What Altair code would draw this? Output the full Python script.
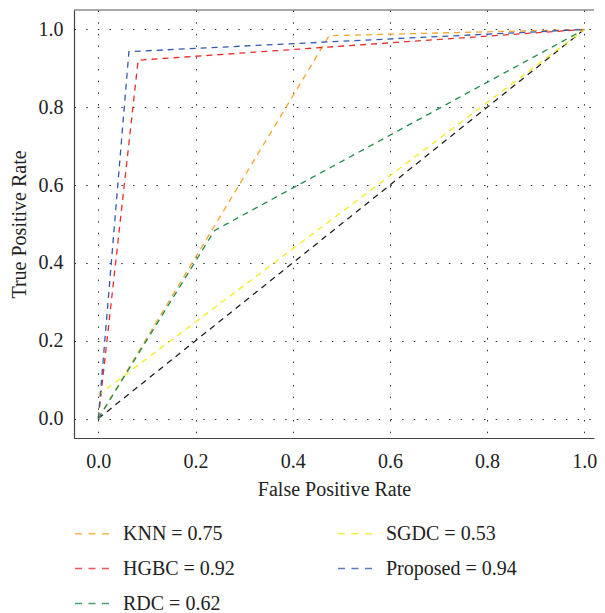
import altair as alt
import pandas as pd

# ---- data ----
labels = ["KNN = 0.75", "HGBC = 0.92", "RDC = 0.62", "SGDC = 0.53", "Proposed = 0.94"]
knn_fpr = [0.0, 0.475, 1.0]
knn_tpr = [0.0, 0.984, 1.0]
hgbc_fpr = [0.0, 0.082, 1.0]
hgbc_tpr = [0.0, 0.921, 1.0]
rdc_fpr = [0.0, 0.239, 1.0]
rdc_tpr = [0.0, 0.483, 1.0]
sgdc_fpr = [0.0, 0.004, 1.0]
sgdc_tpr = [0.0, 0.064, 1.0]
prop_fpr = [0.0, 0.063, 1.0]
prop_tpr = [0.0, 0.943, 1.0]
chance_fpr = [0.0, 1.0]
chance_tpr = [0.0, 1.0]
tick_values = [0.0, 0.2, 0.4, 0.6, 0.8, 1.0]

colors = {
    "KNN = 0.75": "#f8a42e",
    "HGBC = 0.92": "#ee2b2b",
    "RDC = 0.62": "#1f8a4c",
    "SGDC = 0.53": "#f2ec1c",
    "Proposed = 0.94": "#3559ad",
}

series = {
    "KNN = 0.75": (knn_fpr, knn_tpr),
    "HGBC = 0.92": (hgbc_fpr, hgbc_tpr),
    "RDC = 0.62": (rdc_fpr, rdc_tpr),
    "SGDC = 0.53": (sgdc_fpr, sgdc_tpr),
    "Proposed = 0.94": (prop_fpr, prop_tpr),
}
rows = []
for name in labels:
    fx, ty = series[name]
    for i, (a, b) in enumerate(zip(fx, ty)):
        rows.append({"model": name, "fpr": a, "tpr": b, "step": i})
df = pd.DataFrame(rows)
chance_df = pd.DataFrame({"fpr": chance_fpr, "tpr": chance_tpr, "step": [0, 1]})

W = 520
H = 428
FONT = "Liberation Serif"

xscale = alt.Scale(domain=[-0.05, -0.05 + W / 486.0], nice=False, zero=False)
yscale = alt.Scale(domain=[-0.05, 1.05], nice=False, zero=False)

xaxis = alt.Axis(values=tick_values, format=".1f", title="False Positive Rate",
                 labelPadding=13, titlePadding=8)
yaxis = alt.Axis(values=tick_values, format=".1f", title="True Positive Rate",
                 labelPadding=11, titlePadding=9)

chance = alt.Chart(chance_df).mark_line(
    color="#1a1a1a", strokeDash=[6, 5], strokeWidth=1.2
).encode(
    x=alt.X("fpr:Q", scale=xscale, axis=xaxis),
    y=alt.Y("tpr:Q", scale=yscale, axis=yaxis),
    order="step:Q",
)

lines = alt.Chart(df).mark_line(strokeDash=[6, 5], strokeWidth=1.3).encode(
    x=alt.X("fpr:Q", scale=xscale, axis=xaxis),
    y=alt.Y("tpr:Q", scale=yscale, axis=yaxis),
    color=alt.Color(
        "model:N",
        scale=alt.Scale(domain=labels, range=[colors[m] for m in labels]),
        legend=alt.Legend(
            title=None, orient="none", legendX=0, legendY=505, columns=2,
            symbolType="stroke", symbolSize=1225, symbolStrokeWidth=1.6,
            symbolDash=[7, 6.5], symbolOpacity=0.8,
            labelFont=FONT, labelFontSize=20, labelColor="#222", labelOffset=12,
            columnPadding=99, rowPadding=6, padding=0, labelLimit=300,
        ),
    ),
    detail="model:N",
    order="step:Q",
)

top_border = alt.Chart(pd.DataFrame({"k": [0]})).mark_rule(
    color="#555", strokeWidth=1.2
).encode(x=alt.value(0), x2=alt.value(W), y=alt.value(0))

chart = alt.layer(chance, lines, top_border).properties(
    width=W, height=H, padding={"left": 1, "top": 1, "right": 0, "bottom": 0}
).configure_view(
    stroke="transparent"
).configure_axis(
    grid=True, gridDash=[1.5, 10.2], gridColor="#333", gridWidth=1,
    domainColor="#444", domainWidth=1.2, tickSize=0,
    labelFont=FONT, labelFontSize=20, labelColor="#222",
    titleFont=FONT, titleFontSize=20, titleFontWeight="normal", titleColor="#222",
)

chart.save("out.html", embed_options={"renderer": "svg", "actions": False})
